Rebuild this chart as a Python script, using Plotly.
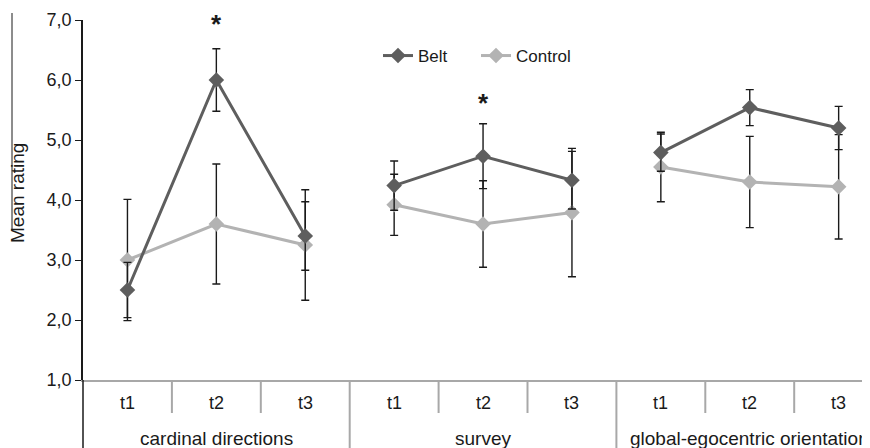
import plotly.graph_objects as go

groups = ["cardinal directions", "survey", "global-egocentric orientation"]
times = ["t1", "t2", "t3"]

belt_cardinal = [2.5, 6.0, 3.4]
belt_cardinal_err = [0.46, 0.52, 0.57]
control_cardinal = [3.0, 3.6, 3.25]
control_cardinal_err = [1.01, 1.0, 0.92]

belt_survey = [4.24, 4.73, 4.33]
belt_survey_err = [0.41, 0.54, 0.48]
control_survey = [3.92, 3.6, 3.79]
control_survey_err = [0.51, 0.72, 1.07]

belt_global = [4.79, 5.54, 5.2]
belt_global_err = [0.31, 0.30, 0.36]
control_global = [4.55, 4.3, 4.22]
control_global_err = [0.58, 0.76, 0.87]

sig_group = ["cardinal directions", "survey"]
sig_time = ["t2", "t2"]
sig_y = [6.98, 5.67]

yticks = [1, 2, 3, 4, 5, 6, 7]

BELT = "#5e5e5e"
CTRL = "#b3b3b3"
FONT = "Liberation Sans, Arial, sans-serif"

# page body has an 8px margin: work in window pixels, convert to figure pixels
OFF = 8
WIN_W, WIN_H = 870, 448
W, H = WIN_W - OFF, WIN_H - OFF
AX_LEFT, AX_TOP, AX_BOTTOM = 83, 20, 380     # window pixels of the plot area
ML = AX_LEFT - OFF
MT = AX_TOP - OFF
MB = H - (AX_BOTTOM - OFF)
MR = 0
pw = W - ML - MR
ph = H - MT - MB
cat_w = 266.7 / 3.0
xmax = -0.5 + pw / cat_w


def py(win_y):
    """window y pixel -> paper y"""
    return (AX_BOTTOM - win_y) / ph


def px(win_x):
    return (win_x - AX_LEFT) / pw


def build(series_list, err_list):
    xs, ys, es = [], [], []
    for gi, (vals, errs) in enumerate(zip(series_list, err_list)):
        for ti, (v, e) in enumerate(zip(vals, errs)):
            xs.append(gi * 3 + ti)
            ys.append(v)
            es.append(e)
        if gi < len(series_list) - 1:
            xs.append(gi * 3 + 2.5)
            ys.append(None)
            es.append(None)
    return xs, ys, es


cx, cy, ce = build([control_cardinal, control_survey, control_global],
                   [control_cardinal_err, control_survey_err, control_global_err])
bx, by, be = build([belt_cardinal, belt_survey, belt_global],
                   [belt_cardinal_err, belt_survey_err, belt_global_err])

fig = go.Figure()
fig.add_trace(go.Scatter(
    x=cx, y=cy, name="Control", mode="lines+markers",
    line=dict(color=CTRL, width=3),
    marker=dict(symbol="diamond", size=12, color=CTRL),
    error_y=dict(type="data", array=ce, visible=True, color="#1a1a1a", thickness=1.4, width=4),
    connectgaps=False, cliponaxis=False,
))
fig.add_trace(go.Scatter(
    x=bx, y=by, name="Belt", mode="lines+markers",
    line=dict(color=BELT, width=3),
    marker=dict(symbol="diamond", size=12, color=BELT),
    error_y=dict(type="data", array=be, visible=True, color="#1a1a1a", thickness=1.4, width=4),
    connectgaps=False, cliponaxis=False,
))

annotations = []
for gi in range(len(groups)):
    for ti, t in enumerate(times):
        annotations.append(dict(
            x=gi * 3 + ti, y=py(403), xref="x", yref="paper",
            text=t, showarrow=False, yanchor="middle",
            font=dict(family=FONT, size=18, color="#1a1a1a")))
    annotations.append(dict(
        x=gi * 3 + 1, y=py(438), xref="x", yref="paper",
        text=groups[gi], showarrow=False, yanchor="middle",
        font=dict(family=FONT, size=19, color="#1a1a1a")))

for g, t, yv in zip(sig_group, sig_time, sig_y):
    annotations.append(dict(
        x=groups.index(g) * 3 + times.index(t), y=yv, xref="x", yref="y",
        text="<b>*</b>", showarrow=False, yanchor="middle", yshift=-3,
        font=dict(family=FONT, size=26, color="#1a1a1a")))

annotations.append(dict(
    x=px(18), y=py(193), xref="paper", yref="paper",
    text="Mean rating", textangle=-90, showarrow=False,
    xanchor="center", yanchor="middle",
    font=dict(family=FONT, size=19, color="#1a1a1a")))

shapes = []
shapes.append(dict(type="line", xref="paper", yref="paper", x0=0, x1=0,
                   y0=0, y1=py(WIN_H + 2), line=dict(color="#1a1a1a", width=1.5)))
for k in range(1, 9):
    major = (k % 3 == 0)
    shapes.append(dict(type="line", xref="x", yref="paper",
                       x0=k - 0.5, x1=k - 0.5, y0=0,
                       y1=py(WIN_H + 2) if major else py(413),
                       line=dict(color="#a8a8a8", width=2)))
shapes.append(dict(type="line", xref="paper", yref="paper",
                   x0=px(12), x1=px(12), y0=py(13), y1=py(230),
                   line=dict(color="#1a1a1a", width=1)))

fig.update_layout(
    width=W, height=H,
    margin=dict(l=ML, r=MR, t=MT, b=MB, pad=0, autoexpand=False),
    paper_bgcolor="white", plot_bgcolor="white",
    separators=", ",
    font=dict(family=FONT, color="#1a1a1a"),
    xaxis=dict(range=[-0.5, xmax], showgrid=False, zeroline=False,
               showticklabels=False, ticks="",
               showline=True, linecolor="#a8a8a8", linewidth=2),
    yaxis=dict(range=[1, 7], tickvals=yticks, tickformat=".1f",
               showgrid=False, zeroline=False,
               showline=True, linecolor="#1a1a1a", linewidth=1.5,
               ticks="outside", ticklen=6, tickcolor="#1a1a1a", tickwidth=1.2,
               tickfont=dict(family=FONT, size=18, color="#1a1a1a")),
    legend=dict(orientation="h", x=(378 - OFF - ML) / pw, xanchor="left",
                y=py(56), yanchor="middle",
                font=dict(family=FONT, size=17, color="#1a1a1a"),
                bgcolor="rgba(0,0,0,0)", traceorder="reversed",
                entrywidth=53, entrywidthmode="pixels"),
    annotations=annotations,
    shapes=shapes,
    showlegend=True,
)

fig.write_html("out.html")
